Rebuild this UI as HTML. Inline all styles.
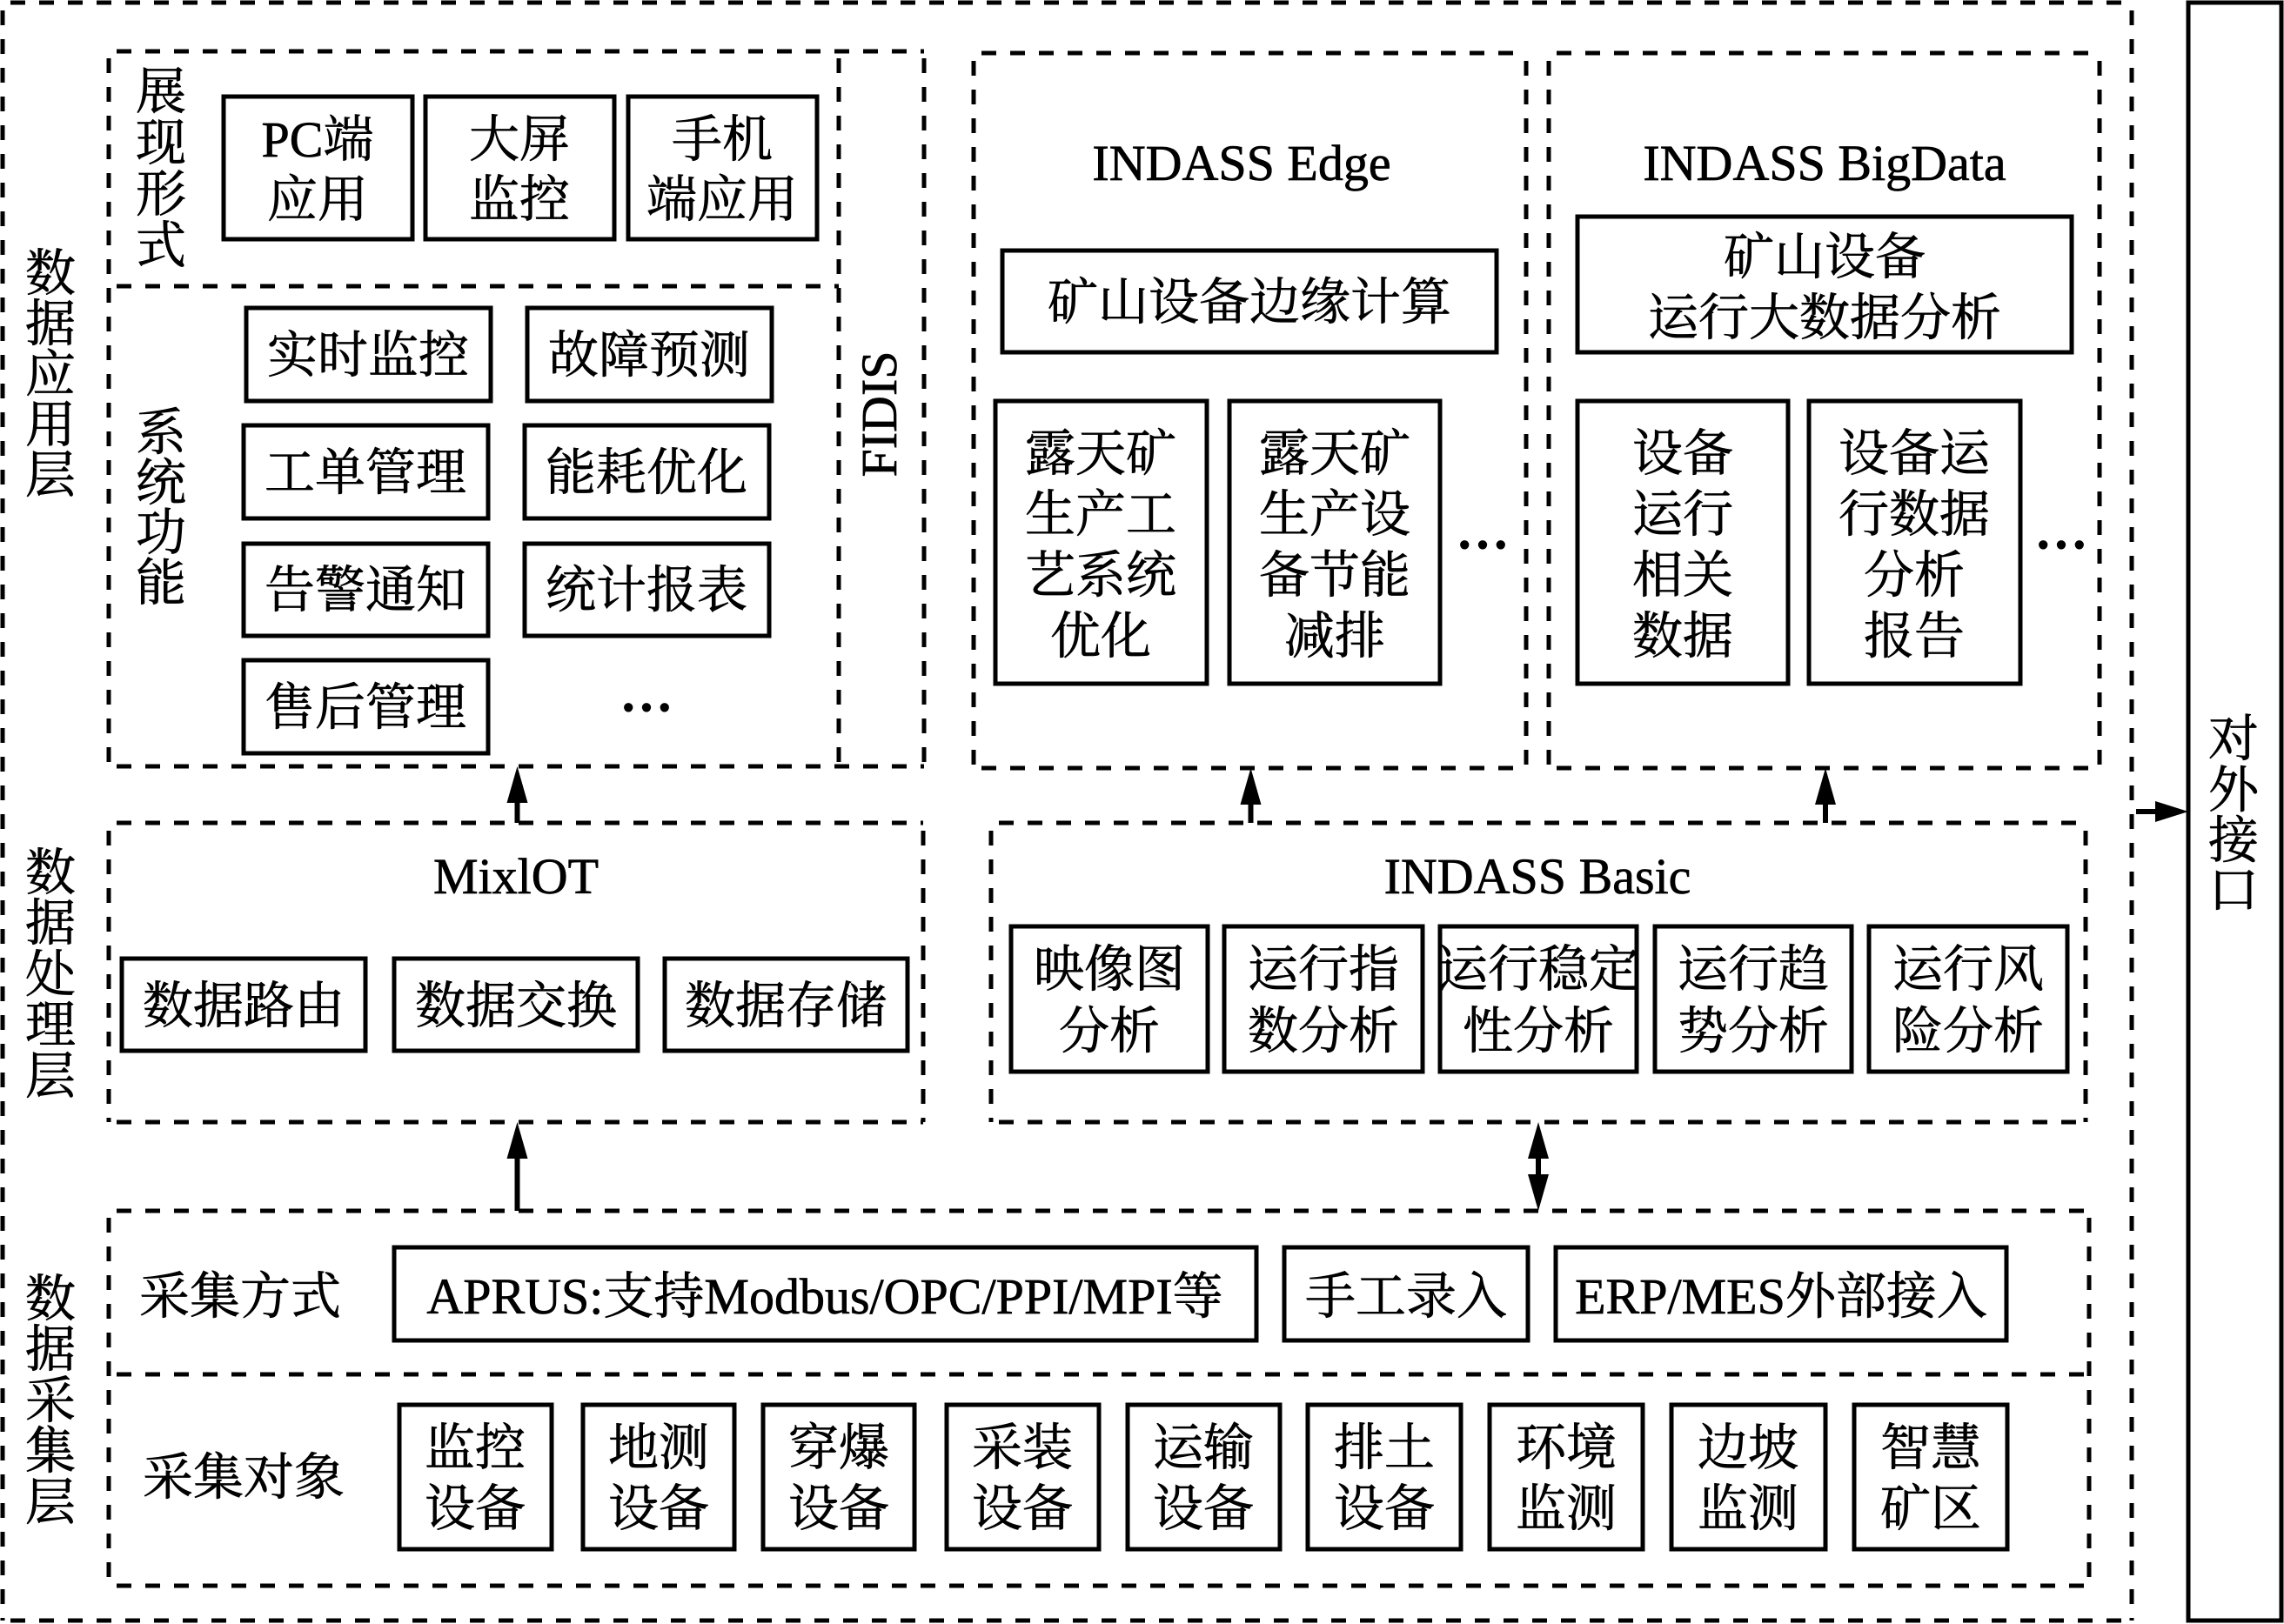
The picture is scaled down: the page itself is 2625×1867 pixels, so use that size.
<!DOCTYPE html>
<html><head><meta charset="utf-8"><style>
html,body{margin:0;padding:0;background:#fff}
svg{display:block}
text{font-family:"Liberation Serif","Noto Serif CJK SC",serif;font-size:58px;fill:#000;stroke:#000;stroke-width:.7;text-anchor:middle}
.d{fill:none;stroke:#000;stroke-width:5;stroke-dasharray:17 16}
.s{fill:none;stroke:#000;stroke-width:5}
.l{stroke:#000;stroke-width:6;fill:none}
.e{font-size:62px;stroke-width:3}
</style></head><body>
<svg width="2625" height="1867" viewBox="0 0 2625 1867" xmlns="http://www.w3.org/2000/svg">
<rect width="2625" height="1867" fill="#fff"/>
<!-- dashed -->
<path class="d" d="M12 3H2450M3 12V1863M2450 12V1863M12 1863H2450"/>
<path class="d" d="M134 59H1062M134 329H964M134 881H1062M125 67V881M964 67V881M1062 67V881"/>
<path class="d" d="M1128 61H1754M1128 883H1754M1119 70V883M1754 70V883"/>
<path class="d" d="M1789 61H2413M1789 883H2413M1780 70V883M2413 70V883"/>
<path class="d" d="M134 946H1061M134 1290H1061M125 955V1290M1061 955V1290"/>
<path class="d" d="M1148 946H2397M1148 1290H2397M1139 955V1290M2397 955V1290"/>
<path class="d" d="M134 1392H2401M134 1580H2401M134 1823H2401M125 1400V1823M2401 1400V1823"/>
<!-- right box -->
<rect class="s" x="2515" y="3" width="107" height="1860"/>
<!-- solid boxes -->
<rect class="s" x="257" y="111" width="217" height="164"/>
<rect class="s" x="489" y="111" width="217" height="164"/>
<rect class="s" x="722" y="111" width="217" height="164"/>
<rect class="s" x="283" y="354" width="281" height="107"/>
<rect class="s" x="606" y="354" width="281" height="107"/>
<rect class="s" x="280" y="489" width="281" height="107"/>
<rect class="s" x="603" y="489" width="281" height="107"/>
<rect class="s" x="280" y="625" width="281" height="106"/>
<rect class="s" x="603" y="625" width="281" height="106"/>
<rect class="s" x="280" y="759" width="281" height="107"/>
<rect class="s" x="1152" y="288" width="568" height="117"/>
<rect class="s" x="1813" y="249" width="568" height="156"/>
<rect class="s" x="1144" y="461" width="243" height="325"/>
<rect class="s" x="1413" y="461" width="242" height="325"/>
<rect class="s" x="1813" y="461" width="242" height="325"/>
<rect class="s" x="2079" y="461" width="243" height="325"/>
<rect class="s" x="140" y="1102" width="280" height="106"/>
<rect class="s" x="453" y="1102" width="280" height="106"/>
<rect class="s" x="764" y="1102" width="279" height="106"/>
<rect class="s" x="1162" y="1065" width="226" height="167"/>
<rect class="s" x="1407" y="1065" width="228" height="167"/>
<rect class="s" x="1655" y="1065" width="226" height="167"/>
<rect class="s" x="1902" y="1065" width="226" height="167"/>
<rect class="s" x="2148" y="1065" width="228" height="167"/>
<rect class="s" x="453" y="1434" width="991" height="107"/>
<rect class="s" x="1476" y="1434" width="280" height="107"/>
<rect class="s" x="1788" y="1434" width="518" height="107"/>
<rect class="s" x="459" y="1615" width="175" height="166"/>
<rect class="s" x="670" y="1615" width="174" height="166"/>
<rect class="s" x="877" y="1615" width="174" height="166"/>
<rect class="s" x="1088" y="1615" width="175" height="166"/>
<rect class="s" x="1296" y="1615" width="175" height="166"/>
<rect class="s" x="1503" y="1615" width="176" height="166"/>
<rect class="s" x="1712" y="1615" width="176" height="166"/>
<rect class="s" x="1921" y="1615" width="177" height="166"/>
<rect class="s" x="2131" y="1615" width="176" height="166"/>
<!-- arrows -->
<path class="l" d="M594.5 946V915M1437.5 946V915M2098 946V915M594.5 1392V1325M1768 1325V1360M2455 933H2485"/>
<path d="M594.5 881l-12 42h24zM1437.5 883l-12 42h24zM2098 883l-12 42h24zM594.5 1290l-12 42h24zM1768 1290l-12 42h24zM1768 1392l-12 -42h24zM2515 933l-38 -12v24z"/>
<!-- left layer labels -->
<text x="58" y="334">数</text><text x="58" y="392">据</text><text x="58" y="450">应</text><text x="58" y="508">用</text><text x="58" y="566">层</text>
<text x="58" y="1023">数</text><text x="58" y="1081">据</text><text x="58" y="1140">处</text><text x="58" y="1198">理</text><text x="58" y="1257">层</text>
<text x="58" y="1513">数</text><text x="58" y="1571">据</text><text x="58" y="1630">采</text><text x="58" y="1688">集</text><text x="58" y="1747">层</text>
<text x="185" y="125">展</text><text x="185" y="184">现</text><text x="185" y="243">形</text><text x="185" y="302">式</text>
<text x="185" y="517">系</text><text x="185" y="575">统</text><text x="185" y="632">功</text><text x="185" y="690">能</text>
<text x="2567" y="869">对</text><text x="2567" y="928">外</text><text x="2567" y="986">接</text><text x="2567" y="1043">口</text>
<text transform="translate(1030 476) rotate(-90)">FIDIS</text>
<!-- display -->
<text x="365" y="180">PC端</text><text x="365" y="249">应用</text>
<text x="597" y="180">大屏</text><text x="597" y="249">监控</text>
<text x="830" y="180">手机</text><text x="830" y="249">端应用</text>
<text x="423" y="428">实时监控</text><text x="746" y="428">故障预测</text>
<text x="420" y="563">工单管理</text><text x="743" y="563">能耗优化</text>
<text x="420" y="698">告警通知</text><text x="743" y="698">统计报表</text>
<text x="420" y="833">售后管理</text>
<text class="e" x="743" y="816">…</text>
<!-- Edge -->
<text x="1427" y="207">INDASS Edge</text>
<text x="1436" y="367">矿山设备边缘计算</text>
<text x="1265" y="541">露天矿</text><text x="1265" y="611">生产工</text><text x="1265" y="681">艺系统</text><text x="1265" y="751">优化</text>
<text x="1534" y="541">露天矿</text><text x="1534" y="611">生产设</text><text x="1534" y="681">备节能</text><text x="1534" y="751">减排</text>
<text class="e" x="1704" y="629">…</text>
<!-- BigData -->
<text x="2097" y="207">INDASS BigData</text>
<text x="2097" y="315">矿山设备</text><text x="2097" y="385">运行大数据分析</text>
<text x="1934" y="541">设备</text><text x="1934" y="611">运行</text><text x="1934" y="681">相关</text><text x="1934" y="751">数据</text>
<text x="2200" y="541">设备运</text><text x="2200" y="611">行数据</text><text x="2200" y="681">分析</text><text x="2200" y="751">报告</text>
<text class="e" x="2369" y="629">…</text>
<!-- MixIOT -->
<text x="593" y="1027">MixlOT</text>
<text x="280" y="1176">数据路由</text><text x="593" y="1176">数据交换</text><text x="903" y="1176">数据存储</text>
<!-- Basic -->
<text x="1767" y="1027">INDASS Basic</text>
<text x="1275" y="1134">映像图</text><text x="1275" y="1205">分析</text>
<text x="1521" y="1134">运行指</text><text x="1521" y="1205">数分析</text>
<text x="1768" y="1134">运行稳定</text><text x="1768" y="1205">性分析</text>
<text x="2015" y="1134">运行趋</text><text x="2015" y="1205">势分析</text>
<text x="2262" y="1134">运行风</text><text x="2262" y="1205">险分析</text>
<!-- acquisition -->
<text x="276" y="1510">采集方式</text>
<text x="948" y="1510">APRUS:支持Modbus/OPC/PPI/MPI等</text>
<text x="1616" y="1510">手工录入</text>
<text x="2047" y="1510">ERP/MES外部接入</text>
<text x="280" y="1718">采集对象</text>
<text x="546" y="1684">监控</text><text x="546" y="1754">设备</text>
<text x="757" y="1684">地测</text><text x="757" y="1754">设备</text>
<text x="964" y="1684">穿爆</text><text x="964" y="1754">设备</text>
<text x="1175" y="1684">采装</text><text x="1175" y="1754">设备</text>
<text x="1383" y="1684">运输</text><text x="1383" y="1754">设备</text>
<text x="1591" y="1684">排土</text><text x="1591" y="1754">设备</text>
<text x="1800" y="1684">环境</text><text x="1800" y="1754">监测</text>
<text x="2009" y="1684">边坡</text><text x="2009" y="1754">监测</text>
<text x="2219" y="1684">智慧</text><text x="2219" y="1754">矿区</text>
</svg>
</body></html>
